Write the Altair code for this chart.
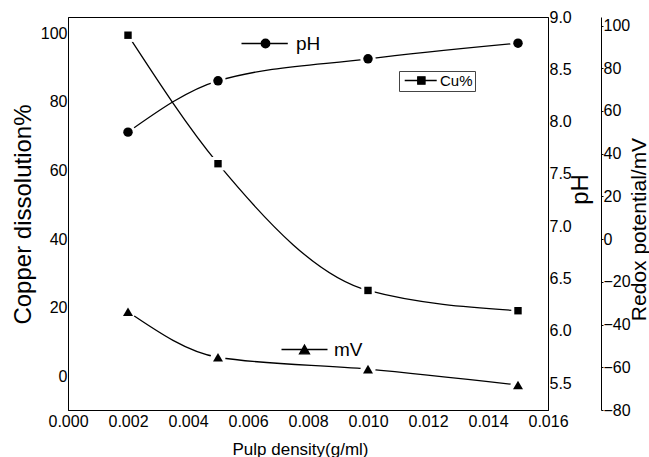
import altair as alt
import pandas as pd

# ---- data ----
density = [0.002, 0.005, 0.010, 0.015]
cu_pct = [99.4, 62.0, 25.1, 19.2]
ph_val = [7.90, 8.39, 8.60, 8.75]
mv_val = [-34.0, -55.3, -60.9, -68.3]

x_ticks = [0.000, 0.002, 0.004, 0.006, 0.008, 0.010, 0.012, 0.014, 0.016]
cu_ticks = [0, 20, 40, 60, 80, 100]
ph_ticks = [5.5, 6.0, 6.5, 7.0, 7.5, 8.0, 8.5, 9.0]
mv_ticks = [-80, -60, -40, -20, 0, 20, 40, 60, 80, 100]

FONT = "Liberation Sans"

df_cu = pd.DataFrame({"x": density, "v": cu_pct, "series": "Cu%"})
df_ph = pd.DataFrame({"x": density, "v": ph_val, "series": "pH"})
df_mv = pd.DataFrame({"x": density, "v": mv_val, "series": "mV"})

x_enc = alt.X(
    "x:Q",
    scale=alt.Scale(domain=[0, 0.016], nice=False, zero=False),
    axis=alt.Axis(
        values=x_ticks, format=".3f", ticks=False, labelPadding=3,
        labelFontSize=16, labelFlush=False, labelOverlap=False,
        title="Pulp density(g/ml)", titleFontSize=17,
        titleX=232, titleY=39, titleAlign="center", titleBaseline="middle",
    ),
)


def series(df, y_enc, legend, shape, size, halo_shape, halo_size):
    base = alt.Chart(df).encode(x=x_enc, y=y_enc)
    line = base.mark_line(interpolate="monotone", strokeWidth=1.3).encode(
        color=alt.Color("series:N", scale=alt.Scale(range=["black"]), legend=legend)
    )
    halo = base.mark_point(shape=halo_shape, size=halo_size, filled=True,
                           color="white", opacity=1)
    pts = base.mark_point(shape=shape, size=size, filled=True,
                          color="black", opacity=1)
    return alt.layer(line, halo, pts)


cu_y = alt.Y(
    "v:Q",
    scale=alt.Scale(domain=[-9.7, 104.7], nice=False, zero=False),
    axis=alt.Axis(
        orient="left", values=cu_ticks, ticks=False, labelPadding=1,
        labelFontSize=16, title="Copper dissolution%", titleFontSize=24,
        titleAngle=270, titleX=-45, titleY=197, titleAlign="center",
        titleBaseline="middle",
    ),
)
ph_y = alt.Y(
    "v:Q",
    scale=alt.Scale(domain=[5.245, 9.0], nice=False, zero=False),
    axis=alt.Axis(
        orient="right", values=ph_ticks, format=".1f", ticks=False,
        labelPadding=1, labelFontSize=16, title="pH", titleFontSize=24,
        titleAngle=270, titleX=32, titleY=172, titleAlign="center",
        titleBaseline="middle",
    ),
)
mv_y = alt.Y(
    "v:Q",
    scale=alt.Scale(domain=[-80, 104], nice=False, zero=False),
    axis=alt.Axis(
        orient="right", offset=53, values=mv_ticks, ticks=True, tickSize=2,
        tickColor="black", labelPadding=0, labelFontSize=16,
        title="Redox potential/mV", titleFontSize=21, titleAngle=270,
        titleX=38, titleY=212, titleAlign="center", titleBaseline="middle",
    ),
)

ph_leg = alt.Legend(
    title=None, orient="none", legendX=188, legendY=17, padding=0,
    symbolType="M-5.06,0H4.7M0.9,0A0.9,0.9 0 1,1 -0.9,0A0.9,0.9 0 1,1 0.9,0Z",
    symbolSize=90, symbolFillColor="black", symbolStrokeColor="black",
    symbolStrokeWidth=1.3, labelFontSize=19, labelOffset=21, labelFont=FONT,
    labelColor="black",
)
cu_leg = alt.Legend(
    title=None, orient="none", legendX=331, legendY=54, padding=2,
    strokeColor="#444444",
    symbolType="M-1.04,0H7.75M2.54,-1H4.54V1H2.54Z",
    symbolSize=53, symbolFillColor="black", symbolStrokeColor="black",
    symbolStrokeWidth=1.3, labelFontSize=15, labelOffset=24, labelFont=FONT,
    labelColor="black",
)
mv_leg = alt.Legend(
    title=None, orient="none", legendX=227, legendY=323, padding=0,
    symbolType="M-4.6,0H4.6M0,-0.87L1,0.87L-1,0.87Z",
    symbolSize=100, symbolFillColor="black", symbolStrokeColor="black",
    symbolStrokeWidth=1.3, labelFontSize=19, labelOffset=20, labelFont=FONT,
    labelColor="black",
)

cu_layer = series(df_cu, cu_y, cu_leg, "square", 55, "square", 180)
ph_layer = series(df_ph, ph_y, ph_leg, "circle", 90, "circle", 240)
mv_layer = series(df_mv, mv_y, mv_leg, "triangle-up", 100, "circle", 230)

chart = (
    alt.layer(cu_layer, ph_layer, mv_layer)
    .resolve_scale(y="independent", color="independent")
    .resolve_legend(color="independent")
    .properties(
        width=480, height=393,
        autosize=alt.AutoSizeParams(type="none"),
        padding={"left": 68, "top": 17, "right": 101, "bottom": 47},
        background="white",
    )
    .configure_view(stroke="black", strokeWidth=1)
    .configure_axis(
        labelFont=FONT, titleFont=FONT, labelColor="black", titleColor="black",
        domainColor="black", domainWidth=1, titleFontWeight="normal", grid=False,
    )
)

chart.save("out.html", embed_options={"renderer": "svg", "actions": False})
